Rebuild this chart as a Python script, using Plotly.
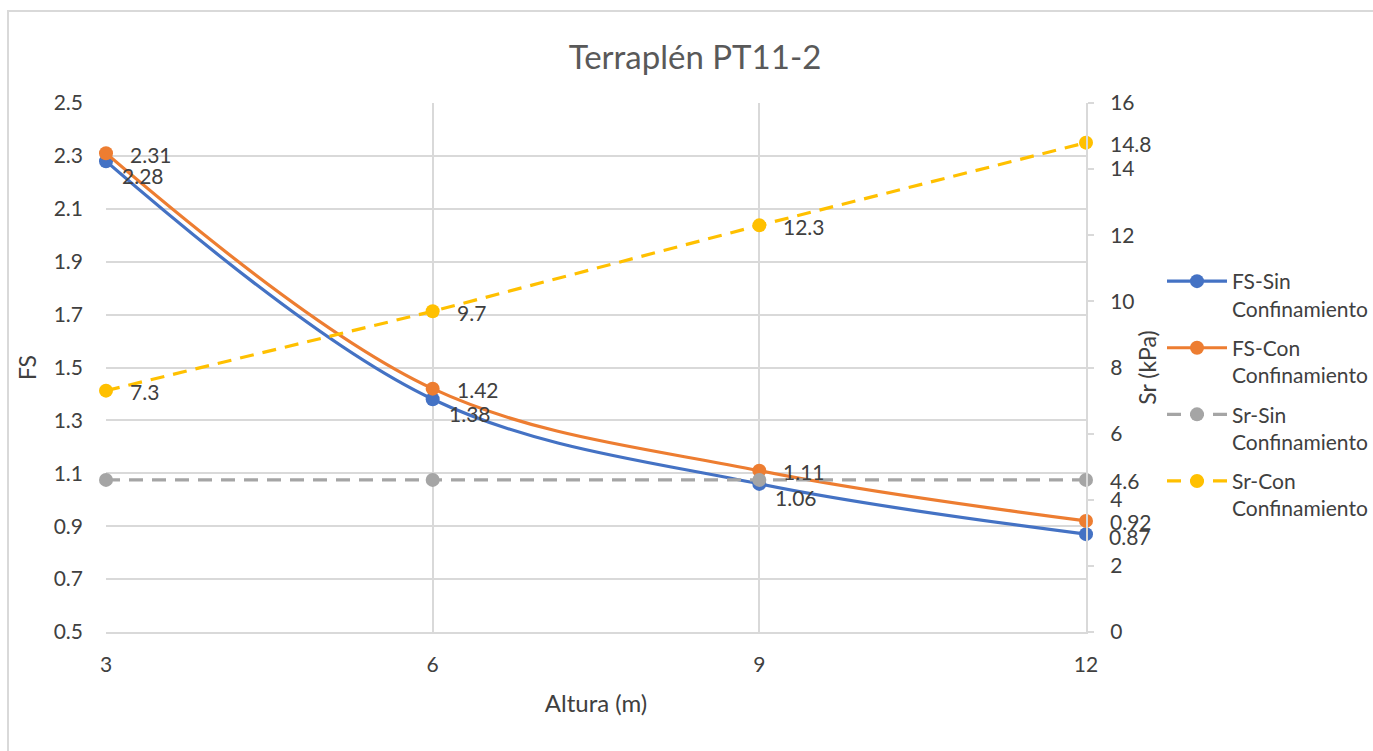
import plotly.graph_objects as go

altura = [3, 6, 9, 12]
fs_sin = [2.28, 1.38, 1.06, 0.87]
fs_con = [2.31, 1.42, 1.11, 0.92]
sr_sin = [4.6, 4.6, 4.6, 4.6]
sr_con = [7.3, 9.7, 12.3, 14.8]
sr_sin_labels = ["", "", "", "4.6"]

FONT = "Lato"
TXT = "#404040"
GRID = "#d9d9d9"
LBL = 21

fig = go.Figure()
fig.add_trace(go.Scatter(
    x=altura, y=fs_sin, name="FS-Sin<br>Confinamiento", mode="lines+markers",
    line=dict(color="#4472c4", width=3.2, shape="spline"),
    marker=dict(size=14, color="#4472c4"), cliponaxis=False,
    legendgroup="a", yaxis="y"))
fig.add_trace(go.Scatter(
    x=altura, y=fs_con, name="FS-Con<br>Confinamiento", mode="lines+markers",
    line=dict(color="#ed7d31", width=3.2, shape="spline"),
    marker=dict(size=14, color="#ed7d31"), cliponaxis=False,
    legendgroup="b", yaxis="y"))
fig.add_trace(go.Scatter(
    x=altura, y=sr_sin, name="Sr-Sin<br>Confinamiento", mode="lines+markers",
    line=dict(color="#a5a5a5", width=3.2, dash="14px,9px"),
    marker=dict(size=14, color="#a5a5a5"), cliponaxis=False,
    legendgroup="c", yaxis="y2"))
fig.add_trace(go.Scatter(
    x=altura, y=sr_con, name="Sr-Con<br>Confinamiento", mode="lines+markers",
    line=dict(color="#ffc000", width=3.2, dash="14px,9px"),
    marker=dict(size=14, color="#ffc000"), cliponaxis=False,
    legendgroup="d", yaxis="y2"))

# data labels
def label(x, y, txt, yref, xs, ys):
    fig.add_annotation(x=x, y=y, xref="x", yref=yref, text=txt, showarrow=False,
                       xanchor="left", yanchor="middle", xshift=xs, yshift=ys,
                       font=dict(size=LBL, color=TXT, family=FONT))

n = len(altura)
for i in range(n):
    label(altura[i], fs_con[i], f"{fs_con[i]:.2f}", "y", 22, -1)
    last = i == n - 1
    label(altura[i], fs_sin[i], f"{fs_sin[i]:.2f}", "y", 21 if last else 14, -2 if last else -14)
    label(altura[i], sr_con[i], f"{sr_con[i]:.1f}", "y2", 22, -1)
    if sr_sin_labels[i]:
        label(altura[i], sr_sin[i], sr_sin_labels[i], "y2", 22, -1)

L, R, T, B = 106, 1086, 103, 632
W, H = 1373, 751
pw, ph = R - L, B - T

fig.update_layout(
    width=W, height=H,
    margin=dict(l=L, r=W - R, t=T, b=H - B, autoexpand=False),
    paper_bgcolor="white", plot_bgcolor="white",
    font=dict(family=FONT, color=TXT, size=21),
    title=dict(text="Terraplén PT11-2", x=695 / W, xref="container", xanchor="center",
               y=1 - 57 / H, yref="container", yanchor="middle",
               font=dict(size=33, color="#595959", family=FONT)),
    xaxis=dict(range=[3, 12], tickvals=altura, ticktext=[str(a) for a in altura],
               showgrid=True, gridcolor=GRID, gridwidth=2, zeroline=False,
               showline=True, linecolor=GRID, linewidth=2,
               ticks="", ticklabelstandoff=13, tickfont=dict(size=21),
               title=dict(text="Altura (m)", font=dict(size=24), standoff=20)),
    yaxis=dict(range=[0.5, 2.5], tickvals=[0.5, 0.7, 0.9, 1.1, 1.3, 1.5, 1.7, 1.9, 2.1, 2.3, 2.5],
               showgrid=True, gridcolor=GRID, gridwidth=2, zeroline=False,
               showline=False, ticks="", ticklabelstandoff=22, tickfont=dict(size=21),
               title=dict(text="FS", font=dict(size=23), standoff=10)),
    yaxis2=dict(range=[0, 16], tickvals=[0, 2, 4, 6, 8, 10, 12, 14, 16], overlaying="y", side="right",
                showgrid=False, zeroline=False, showline=True, linecolor=GRID, linewidth=2,
                ticks="outside", ticklen=6, tickcolor=GRID, tickwidth=2,
                ticklabelstandoff=12, tickfont=dict(size=21),
                title=dict(text="Sr (kPa)", font=dict(size=23), standoff=6)),
    legend=dict(x=(1162 - L) / pw, xanchor="left", y=(B - 261) / ph, yanchor="top",
                font=dict(size=21, color=TXT), valign="top", tracegroupgap=9,
                bgcolor="rgba(0,0,0,0)", itemwidth=60),
    showlegend=True,
)

# outer chart border
fig.add_shape(type="rect", xref="paper", yref="paper",
              x0=(8 - L) / pw, x1=(1400 - L) / pw, y0=(B - 800) / ph, y1=(B - 11) / ph,
              line=dict(color=GRID, width=2), fillcolor="rgba(0,0,0,0)", layer="below")

fig.write_html("out.html")
